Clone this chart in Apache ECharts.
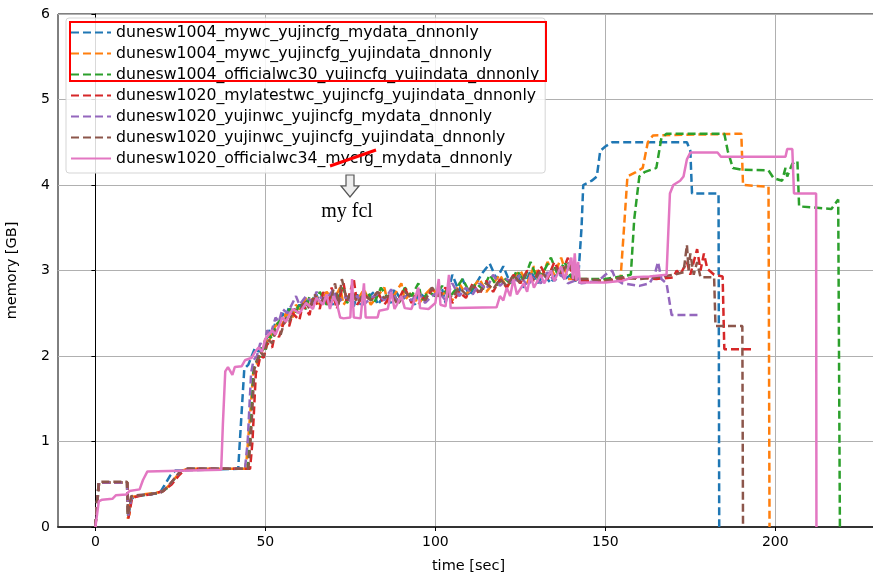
<!DOCTYPE html>
<html>
<head>
<meta charset="utf-8">
<script src="https://cdn.jsdelivr.net/npm/echarts@6/dist/echarts.min.js"></script>
<style>
  html, body { margin: 0; padding: 0; background: #fff; }
  #chart { width: 873px; height: 573px; }
</style>
</head>
<body>
<div id="chart"></div>
<script>
// series names (legend order)
const names = [
  "dunesw1004_mywc_yujincfg_mydata_dnnonly",
  "dunesw1004_mywc_yujincfg_yujindata_dnnonly",
  "dunesw1004_officialwc30_yujincfg_yujindata_dnnonly",
  "dunesw1020_mylatestwc_yujincfg_yujindata_dnnonly",
  "dunesw1020_yujinwc_yujincfg_mydata_dnnonly",
  "dunesw1020_yujinwc_yujincfg_yujindata_dnnonly",
  "dunesw1020_officialwc34_mycfg_mydata_dnnonly",
];
const colors = ["#1f77b4", "#ff7f0e", "#2ca02c", "#d62728", "#9467bd", "#8c564b", "#e377c2"];
const xTicks = [0, 50, 100, 150, 200];

// [time sec, memory GB]
const blue1004 = [
  [0, 0], [0.5, 0.3], [1, 0.52], [9.3, 0.52], [9.5, 0.12], [10.5, 0.33], [12, 0.36], [16, 0.38], [19, 0.4],
  [20.5, 0.5], [22, 0.6], [23.5, 0.66], [24, 0.68], [42, 0.68], [42.8, 1.2], [43.8, 1.85], [45, 1.9], [46, 2.0],
  [47, 2.1], [48, 2.05], [50, 2.15], [51, 2.3], [52, 2.25], [53, 2.4], [54, 2.35], [55, 2.5], [56, 2.45],
  [57, 2.58], [58, 2.5], [60, 2.6], [61, 2.55], [62, 2.65], [64, 2.6], [65, 2.72], [66, 2.62], [68, 2.7],
  [70, 2.6], [71, 2.75], [72, 2.65], [74, 2.7], [76, 2.58], [77, 2.72], [78, 2.6], [80, 2.68], [82, 2.75],
  [83, 2.6], [85, 2.7], [87, 2.62], [88, 2.78], [90, 2.65], [92, 2.72], [94, 2.6], [95, 2.75], [97, 2.68],
  [99, 2.8], [100, 2.7], [102, 2.78], [103, 2.62], [105, 2.95], [107, 2.75], [108, 2.9], [110, 2.7],
  [112, 2.85], [114, 2.98], [116, 3.08], [118, 2.9], [120, 3.05], [122, 2.85], [124, 2.95], [126, 2.8],
  [128, 3.0], [130, 2.85], [132, 2.95], [134, 2.85], [136, 3.0], [138, 2.9], [140, 2.95], [141, 2.88],
  [142, 2.9], [143, 3.5], [143.5, 4.0], [146, 4.05], [147.5, 4.1], [148.5, 4.4], [150, 4.45], [152, 4.5],
  [174, 4.5], [175, 4.4], [175.5, 3.9], [183.3, 3.9], [183.5, 0],
];
const orange1004 = [
  [0, 0], [0.5, 0.3], [1, 0.52], [9.3, 0.52], [9.5, 0.1], [10, 0.15], [10.5, 0.35], [12, 0.36], [14, 0.38],
  [18, 0.4], [20, 0.42], [22, 0.5], [24, 0.6], [25.5, 0.66], [27, 0.68], [44, 0.68], [44.5, 0.8], [45.5, 1.3],
  [46.5, 1.85], [47.5, 1.9], [48, 2.0], [49, 2.05], [50, 2.2], [51, 2.15], [52, 2.3], [54, 2.4], [55, 2.35],
  [56, 2.5], [58, 2.45], [59, 2.6], [60, 2.55], [62, 2.68], [63, 2.58], [65, 2.7], [66, 2.6], [68, 2.75],
  [70, 2.65], [72, 2.8], [73, 2.6], [75, 2.72], [77, 2.65], [79, 2.78], [81, 2.6], [83, 2.7], [85, 2.8],
  [86, 2.62], [88, 2.72], [90, 2.85], [91, 2.65], [93, 2.75], [95, 2.6], [97, 2.72], [99, 2.8], [101, 2.68],
  [103, 2.75], [105, 2.65], [107, 2.85], [109, 2.72], [111, 2.8], [113, 2.9], [115, 2.75], [117, 2.85],
  [119, 2.95], [121, 2.8], [123, 2.92], [125, 3.0], [127, 2.85], [129, 3.05], [131, 2.9], [133, 3.1],
  [135, 2.95], [137, 3.15], [139, 2.9], [141, 2.9], [143, 2.88], [150, 2.88], [152, 2.9], [154.5, 2.92],
  [155.5, 3.5], [156.5, 4.1], [159, 4.15], [161, 4.2], [162.5, 4.5], [164, 4.58], [190, 4.6], [190.5, 4.0],
  [191, 3.98], [198, 3.98], [198.3, 0],
];
const green1004 = [
  [0, 0], [0.6, 0.3], [1.1, 0.52], [9.4, 0.52], [9.6, 0.12], [10.6, 0.34], [12, 0.36], [15, 0.38], [19, 0.4],
  [21, 0.45], [23, 0.55], [25, 0.65], [27, 0.68], [44.8, 0.68], [45.5, 1.0], [46.5, 1.85], [47.5, 1.95],
  [48.5, 2.0], [49, 2.1], [50, 2.05], [51, 2.25], [52, 2.2], [53, 2.35], [55, 2.45], [56, 2.4], [57, 2.55],
  [59, 2.5], [60, 2.62], [62, 2.55], [63, 2.7], [65, 2.65], [66, 2.75], [68, 2.6], [70, 2.72], [71, 2.65],
  [73, 2.8], [74, 2.62], [76, 2.72], [78, 2.68], [80, 2.75], [82, 2.62], [84, 2.8], [86, 2.68], [88, 2.72],
  [89, 2.6], [91, 2.8], [93, 2.7], [95, 2.85], [96, 2.65], [98, 2.75], [100, 2.7], [102, 2.82], [104, 2.68],
  [106, 2.78], [108, 2.9], [110, 2.75], [112, 2.85], [114, 2.78], [116, 2.95], [118, 2.82], [120, 2.92],
  [122, 2.85], [124, 3.0], [126, 2.88], [128, 3.1], [130, 2.9], [132, 3.0], [134, 3.15], [136, 2.95],
  [138, 3.1], [140, 2.92], [142, 2.9], [150, 2.9], [157.5, 2.95], [158.5, 3.6], [160, 4.1], [161.5, 4.15],
  [165, 4.2], [166.5, 4.55], [168, 4.6], [185, 4.6], [186, 4.4], [187.5, 4.2], [190, 4.18], [198, 4.17],
  [199.5, 4.08], [202, 4.05], [203, 4.2], [203.5, 4.1], [205, 4.25], [206.5, 4.28], [207, 3.75],
  [216.5, 3.72], [218.5, 3.83], [219, 0],
];
const red1020 = [
  [0, 0], [0.6, 0.3], [1.1, 0.52], [9.4, 0.52], [9.7, 0.1], [10.8, 0.34], [12.5, 0.36], [16, 0.38],
  [20, 0.42], [22.5, 0.5], [24.5, 0.6], [26, 0.66], [27.5, 0.68], [45.5, 0.68], [46.2, 1.0], [47.2, 1.8],
  [48, 1.9], [48.5, 2.0], [49.5, 1.98], [50.5, 2.15], [52, 2.1], [53, 2.3], [54, 2.22], [55.5, 2.4],
  [57, 2.35], [58, 2.5], [60, 2.42], [61, 2.6], [63, 2.48], [64, 2.7], [66, 2.55], [67, 2.75], [68.5, 2.6],
  [69.5, 2.8], [71, 2.55], [73, 2.85], [74, 2.62], [76, 2.9], [77, 2.6], [79, 2.72], [81, 2.65], [83, 2.75],
  [85, 2.6], [87, 2.72], [89, 2.65], [91, 2.8], [93, 2.62], [95, 2.75], [97, 2.65], [99, 2.78], [101, 2.7],
  [103, 2.8], [105, 2.62], [107, 2.75], [109, 2.68], [111, 2.85], [113, 2.72], [115, 2.88], [117, 2.75],
  [119, 2.9], [121, 2.8], [123, 2.95], [125, 2.85], [127, 3.0], [129, 2.88], [131, 3.05], [133, 2.9],
  [135, 3.1], [137, 2.95], [139, 3.15], [140.5, 2.9], [142, 2.88], [150, 2.88], [155, 2.9], [160, 2.92],
  [165, 2.9], [170, 2.92], [171, 3.0], [172, 2.95], [174, 3.1], [175, 2.95], [177, 3.25], [178, 3.0],
  [179, 3.2], [180, 3.02], [182, 2.95], [184.5, 2.93], [185, 2.08], [193, 2.08],
];
const purple1020 = [
  [0, 0], [0.5, 0.3], [1, 0.52], [9.3, 0.52], [9.6, 0.12], [10.6, 0.34], [12, 0.37], [16, 0.38], [19.5, 0.41],
  [21.5, 0.48], [23.5, 0.58], [25, 0.65], [26.5, 0.68], [44, 0.68], [44.8, 1.0], [45.8, 1.8], [46.5, 1.95],
  [47.5, 2.0], [48.5, 2.15], [49.5, 2.1], [50.5, 2.3], [51.5, 2.25], [53, 2.45], [54, 2.4], [55, 2.55],
  [56.5, 2.5], [58, 2.62], [59, 2.7], [60, 2.6], [62, 2.7], [64, 2.62], [65, 2.75], [67, 2.65], [69, 2.72],
  [70, 2.78], [71, 2.6], [73, 2.7], [75, 2.65], [77, 2.7], [79, 2.6], [81, 2.68], [83, 2.72], [85, 2.65],
  [87, 2.78], [89, 2.62], [91, 2.7], [93, 2.65], [95, 2.75], [97, 2.62], [99, 2.7], [101, 2.75], [103, 2.65],
  [105, 2.85], [107, 2.7], [109, 2.8], [111, 2.72], [113, 2.85], [115, 2.78], [117, 2.95], [119, 2.82],
  [121, 2.9], [123, 2.85], [125, 2.95], [127, 2.82], [129, 2.92], [131, 2.85], [133, 2.98], [135, 2.88],
  [137, 2.95], [139, 2.85], [141, 2.88], [143, 2.85], [148, 2.88], [150, 2.95], [152, 3.0], [153, 2.9],
  [155, 2.85], [160, 2.82], [163, 2.85], [164.5, 2.95], [165.5, 3.1], [166.5, 2.9], [168, 2.85],
  [169.5, 2.48], [177.5, 2.48],
];
const brown1020 = [
  [0, 0], [0.5, 0.3], [1, 0.53], [9.3, 0.53], [9.6, 0.14], [10.5, 0.36], [12, 0.37], [16, 0.38], [19.5, 0.41],
  [21.5, 0.48], [23.5, 0.58], [25, 0.65], [26.5, 0.68], [45, 0.68], [45.8, 1.1], [46.8, 1.85], [47.6, 1.95],
  [48.5, 2.05], [49.5, 2.0], [50.5, 2.2], [52, 2.15], [53, 2.3], [54.5, 2.25], [56, 2.45], [57, 2.4],
  [58.5, 2.55], [60, 2.5], [61.5, 2.65], [63, 2.55], [64.5, 2.72], [66, 2.6], [67.5, 2.7], [69, 2.62],
  [70.5, 2.85], [71.5, 2.6], [72.5, 2.9], [74, 2.65], [75.5, 2.75], [77, 2.62], [79, 2.72], [81, 2.65],
  [83, 2.75], [85, 2.68], [87, 2.72], [89, 2.6], [91, 2.75], [93, 2.68], [95, 2.72], [97, 2.65], [99, 2.8],
  [101, 2.7], [103, 2.75], [105, 2.68], [107, 2.8], [109, 2.72], [111, 2.82], [113, 2.75], [115, 2.85],
  [117, 2.78], [119, 2.9], [121, 2.82], [123, 2.95], [125, 2.85], [127, 2.98], [129, 2.88], [131, 3.0],
  [133, 2.9], [135, 3.05], [137, 2.95], [139, 3.1], [141, 2.9], [145, 2.9], [150, 2.88], [155, 2.92],
  [160, 2.9], [165, 2.92], [170, 2.95], [173, 2.98], [174, 3.3], [174.5, 3.0], [175, 3.2], [176, 2.95],
  [177, 3.1], [178, 2.92], [182, 2.92], [182.4, 2.35], [190.3, 2.35], [190.5, 0],
];
const pink1020 = [
  [0, 0], [0.5, 0.15], [1, 0.3], [2, 0.32], [5, 0.33], [6, 0.37], [9, 0.38], [10, 0.42], [13, 0.44],
  [14, 0.55], [15.3, 0.65], [37, 0.67], [37.5, 1.2], [38.2, 1.82], [39, 1.87], [40.3, 1.78], [41, 1.87],
  [43, 1.88], [44, 1.95], [46, 1.98], [47, 2.05], [48, 2.1], [49, 2.05], [50, 2.2], [52, 2.3], [53, 2.25],
  [55, 2.45], [56, 2.4], [58, 2.55], [60, 2.5], [62, 2.62], [64, 2.55], [65, 2.68], [67, 2.6], [68, 2.72],
  [69, 2.55], [70, 2.7], [71, 2.62], [72, 2.45], [73, 2.44], [75, 2.45], [75.5, 2.9], [76, 2.45], [78, 2.44],
  [79, 2.85], [79.5, 2.45], [83, 2.45], [83.5, 2.53], [86, 2.55], [87, 2.75], [88, 2.55], [90, 2.7],
  [91, 2.56], [93, 2.55], [95, 2.8], [95.5, 2.56], [98, 2.55], [100, 2.62], [101, 2.9], [101.5, 2.6],
  [103, 2.58], [104, 2.95], [104.5, 2.56], [106, 2.56], [118, 2.57], [119, 2.7], [120, 2.65], [121, 2.8],
  [122, 2.7], [123, 2.9], [124, 2.72], [126, 2.85], [127, 2.75], [128, 2.95], [129, 2.8], [131, 2.95],
  [132, 2.85], [134, 3.0], [135, 2.88], [137, 3.05], [138, 2.9], [140, 3.15], [140.5, 2.9], [141, 3.2],
  [141.5, 2.88], [142, 3.1], [142.5, 2.86], [150, 2.86], [155, 2.88], [158, 2.92], [163, 2.93], [168, 2.95],
  [169, 3.9], [170, 4.0], [172, 4.05], [173, 4.1], [174, 4.3], [175, 4.38], [183, 4.38], [184, 4.33],
  [203, 4.33], [203.5, 4.42], [205, 4.42], [205.5, 3.9], [212, 3.9], [212.1, 0],
];

const seriesData = [blue1004, orange1004, green1004, red1020, purple1020, brown1020, pink1020];

const font = "DejaVu Sans";
var myChart = echarts.init(document.getElementById("chart"));

var series = seriesData.map((d, i) => {
  return {
    name: names[i],
    type: "line",
    data: d,
    symbol: "none",
    showSymbol: false,
    color: colors[i],
    lineStyle: {
      color: colors[i],
      width: 2.5,
      type: i === 6 ? "solid" : [8, 4],
    },
  };
});

var option = {
  animation: false,
  backgroundColor: "#fff",
  grid: {
    left: 58,
    right: -6,
    top: 14,
    bottom: 46,
    containLabel: false,
    outerBoundsMode: "none",
    show: true,
    borderColor: "#000",
    borderWidth: 1,
  },
  legend: {
    orient: "vertical",
    left: 66,
    top: 18,
    padding: [6, 6, 6, 4],
    itemWidth: 40,
    itemHeight: 14,
    itemGap: 4,
    // hide the marker dot, keep the (dashed) line
    itemStyle: { opacity: 0 },
    backgroundColor: "rgba(255,255,255,0.85)",
    borderColor: "#d5d5d5",
    borderWidth: 1,
    borderRadius: 3,
    textStyle: { color: "#000", fontSize: 15.7, lineHeight: 17, fontFamily: font },
    data: names,
  },
  xAxis: {
    type: "value",
    min: -11,
    max: 230.5,
    name: "time [sec]",
    nameLocation: "middle",
    nameGap: 32,
    nameTextStyle: { color: "#000", fontSize: 14.5, fontFamily: font },
    axisLine: { show: true, lineStyle: { color: "#333", width: 2 } },
    axisTick: { show: true, customValues: xTicks, length: 4, lineStyle: { color: "#000" } },
    axisLabel: { customValues: xTicks, color: "#000", fontSize: 14, fontFamily: font, margin: 8 },
    splitLine: { show: true, lineStyle: { color: "#b0b0b0", width: 1 } },
  },
  yAxis: {
    type: "value",
    min: 0,
    max: 6,
    interval: 1,
    name: "memory [GB]",
    nameLocation: "middle",
    nameGap: 38,
    nameTextStyle: { color: "#000", fontSize: 14.5, fontFamily: font },
    axisLine: { show: true, lineStyle: { color: "#000", width: 1 } },
    axisTick: { show: true, length: 4, lineStyle: { color: "#000" } },
    axisLabel: { color: "#000", fontSize: 14, fontFamily: font, margin: 8 },
    splitLine: { show: true, lineStyle: { color: "#b0b0b0", width: 1 } },
  },
  graphic: [
    {
      type: "rect",
      z: 100,
      shape: { x: 70, y: 22, width: 476, height: 59 },
      style: { fill: null, stroke: "#ff0000", lineWidth: 2 },
    },
    {
      type: "line",
      z: 100,
      shape: { x1: 330, y1: 166, x2: 376, y2: 150 },
      style: { stroke: "#ff0000", lineWidth: 3 },
    },
    {
      type: "polygon",
      z: 100,
      shape: {
        points: [[346, 175], [354, 175], [354, 186], [359, 186], [350, 197], [341, 186], [346, 186]],
      },
      style: { fill: "#eeeeee", stroke: "#555", lineWidth: 1.2 },
    },
    {
      type: "text",
      z: 100,
      x: 347,
      y: 212,
      style: {
        text: "my fcl",
        fill: "#000",
        font: "20px 'Liberation Serif'",
        textAlign: "center",
        textVerticalAlign: "middle",
      },
    },
  ],
  series: series,
};

myChart.setOption(option);
</script>
</body>
</html>
